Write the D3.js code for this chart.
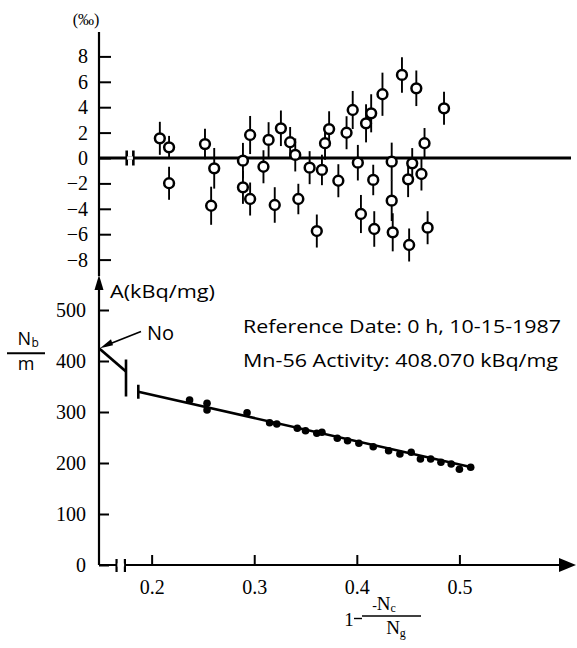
<!DOCTYPE html>
<html>
<head>
<meta charset="utf-8">
<script src="https://cdnjs.cloudflare.com/ajax/libs/d3/7.8.5/d3.min.js"></script>
<style>
  body { margin: 0; background: #fff; }
  svg { display: block; }
</style>
</head>
<body>
<svg id="chart"></svg>
<script>
// residuals (per mille) vs 1 - Nc/Ng
var resX = [0.208, 0.217, 0.217, 0.252, 0.258, 0.261, 0.289, 0.289, 0.296, 0.296, 0.309,
            0.314, 0.320, 0.326, 0.335, 0.340, 0.343, 0.354, 0.361, 0.366, 0.369, 0.373,
            0.382, 0.390, 0.396, 0.401, 0.404, 0.409, 0.414, 0.416, 0.417, 0.425, 0.434,
            0.434, 0.435, 0.444, 0.450, 0.451, 0.454, 0.458, 0.463, 0.466, 0.469, 0.485];
var resY = [1.55, 0.84, -1.99, 1.10, -3.76, -0.81, -0.21, -2.31, 1.81, -3.23, -0.69,
            1.42, -3.70, 2.34, 1.24, 0.24, -3.23, -0.76, -5.75, -0.94, 1.16, 2.28,
            -1.79, 1.99, 3.78, -0.37, -4.41, 2.73, 3.52, -1.73, -5.59, 5.02, -0.29,
            -3.36, -5.85, 6.54, -1.68, -6.85, -0.42, 5.49, -1.26, 1.16, -5.49, 3.91];
var resErr = [1.3, 0.9, 1.3, 1.2, 1.5, 1.6, 1.4, 1.3, 1.5, 1.3, 1.3,
              1.4, 1.4, 1.4, 1.2, 1.3, 1.2, 1.3, 1.3, 1.2, 1.3, 1.4,
              1.3, 1.3, 1.5, 1.4, 1.5, 1.5, 1.5, 1.2, 1.4, 1.7, 1.5,
              1.6, 1.5, 1.4, 1.4, 1.3, 1.2, 1.4, 1.3, 1.2, 1.3, 1.3];

// activity Nb/m (kBq/mg)
var actX = [0.237, 0.254, 0.254, 0.293, 0.315, 0.322, 0.342, 0.350, 0.361, 0.366, 0.381, 0.391,
            0.402, 0.416, 0.431, 0.442, 0.453, 0.462, 0.472, 0.482, 0.492, 0.500, 0.511];
var actY = [323.5, 317.1, 303.9, 298.6, 279.0, 276.5, 268.0, 263.3, 258.2, 260.2, 248.4, 243.7,
            238.6, 232.0, 224.1, 217.6, 221.0, 207.8, 207.8, 201.4, 198.0, 187.6, 191.6];

var fitN0 = 425;      // No, intercept
var fitSlope = -456;
var fitStart = 0.187, fitEnd = 0.513;

var xTicks = [0.2, 0.3, 0.4, 0.5];
var topTicks = [-8, -6, -4, -2, 0, 2, 4, 6, 8];
var botTicks = [0, 100, 200, 300, 400, 500];

var width = 577, height = 648;
var serif = '"Liberation Serif", "Times New Roman", serif';
var sans = '"Open Sans", "Lato", sans-serif';

var svg = d3.select('#chart').attr('width', width).attr('height', height);

// broken x axis: 0..0.1 squeezed in front of the break
var x = d3.scaleLinear().domain([0, 0.1, 0.187, 0.6]).range([99, 126, 138.3, 562]);
var yTop = d3.scaleLinear().domain([-8, 8]).range([259.6, 56.4]);
var yBot = d3.scaleLinear().domain([0, 500]).range([565, 310]);
var x0 = x(0);

function fit(v) { return fitN0 + fitSlope * v; }

// ---------- top panel ----------
svg.append('line')
  .attr('x1', x0).attr('x2', x0).attr('y1', 32).attr('y2', 276)
  .attr('stroke', '#000').attr('stroke-width', 2.2);

var topAxis = svg.append('g')
  .attr('transform', 'translate(' + x0 + ',0)')
  .call(d3.axisRight(yTop).tickValues(topTicks).tickSize(12)
    .tickFormat(function(d) { return d < 0 ? '\u2212' + (-d) : d; }));
topAxis.select('.domain').remove();
topAxis.selectAll('line').attr('stroke-width', 2);
topAxis.selectAll('text')
  .attr('x', -11).attr('text-anchor', 'end')
  .style('font-family', serif).style('font-size', '20px');

svg.append('text')
  .attr('x', 86).attr('y', 25).attr('text-anchor', 'middle')
  .style('font-family', serif).style('font-size', '16px')
  .text('(\u2030)');

// zero line with break
svg.append('line')
  .attr('x1', x0).attr('x2', 571).attr('y1', yTop(0)).attr('y2', yTop(0))
  .attr('stroke', '#000').attr('stroke-width', 2.8);
[0.105, 0.152].forEach(function(b) {
  svg.append('line')
    .attr('x1', x(b)).attr('x2', x(b)).attr('y1', yTop(0) - 7.5).attr('y2', yTop(0) + 7.5)
    .attr('stroke', '#000').attr('stroke-width', 2.6);
});
svg.append('line')
  .attr('x1', x(0.108)).attr('x2', x(0.149)).attr('y1', yTop(0)).attr('y2', yTop(0))
  .attr('stroke', '#fff').attr('stroke-width', 3.2);

var res = resX.map(function(v, i) { return { x: v, y: resY[i], e: resErr[i] }; });

svg.append('g').selectAll('line')
  .data(res).enter().append('line')
  .attr('x1', function(d) { return x(d.x); })
  .attr('x2', function(d) { return x(d.x); })
  .attr('y1', function(d) { return yTop(d.y + d.e); })
  .attr('y2', function(d) { return yTop(d.y - d.e); })
  .attr('stroke', '#000').attr('stroke-width', 1.9);

svg.append('g').selectAll('circle')
  .data(res).enter().append('circle')
  .attr('cx', function(d) { return x(d.x); })
  .attr('cy', function(d) { return yTop(d.y); })
  .attr('r', 4.9)
  .attr('fill', '#fff').attr('stroke', '#000').attr('stroke-width', 2.5);

// ---------- bottom panel ----------
svg.append('line')
  .attr('x1', x0).attr('x2', x0).attr('y1', 286).attr('y2', yBot(0))
  .attr('stroke', '#000').attr('stroke-width', 2.2);
svg.append('path')
  .attr('d', 'M' + x0 + ',275 L' + (x0 - 4.5) + ',290 L' + (x0 + 4.5) + ',290 Z')
  .attr('fill', '#000');

var botAxis = svg.append('g')
  .attr('transform', 'translate(' + x0 + ',0)')
  .call(d3.axisRight(yBot).tickValues(botTicks).tickSize(10));
botAxis.select('.domain').remove();
botAxis.selectAll('line').attr('stroke-width', 2);
botAxis.selectAll('text')
  .attr('x', -13).attr('text-anchor', 'end')
  .style('font-family', serif).style('font-size', '20px');

// x axis
svg.append('line')
  .attr('x1', x0).attr('x2', 562).attr('y1', yBot(0)).attr('y2', yBot(0))
  .attr('stroke', '#000').attr('stroke-width', 2.2);
svg.append('path')
  .attr('d', 'M576,' + yBot(0) + ' L559,' + (yBot(0) - 7) + ' L559,' + (yBot(0) + 7) + ' Z')
  .attr('fill', '#000');
[0.065, 0.096].forEach(function(b) {
  svg.append('line')
    .attr('x1', x(b)).attr('x2', x(b)).attr('y1', yBot(0) - 6).attr('y2', yBot(0) + 7)
    .attr('stroke', '#000').attr('stroke-width', 2.2);
});
svg.append('line')
  .attr('x1', x(0.068)).attr('x2', x(0.093)).attr('y1', yBot(0)).attr('y2', yBot(0))
  .attr('stroke', '#fff').attr('stroke-width', 3);

var xAxis = svg.append('g')
  .attr('transform', 'translate(0,' + yBot(0) + ')')
  .call(d3.axisTop(x).tickValues(xTicks).tickSize(10).tickFormat(d3.format('.1f')));
xAxis.select('.domain').remove();
xAxis.selectAll('line').attr('stroke-width', 2);
xAxis.selectAll('text')
  .attr('y', 29).attr('dy', 0)
  .style('font-family', serif).style('font-size', '20px');

// fitted line, in two pieces around the break
svg.append('line')
  .attr('x1', x(0)).attr('y1', yBot(fit(0)))
  .attr('x2', x(0.1)).attr('y2', yBot(fit(0.1)))
  .attr('stroke', '#000').attr('stroke-width', 2.8);
svg.append('line')
  .attr('x1', x(0.1)).attr('x2', x(0.1))
  .attr('y1', yBot(fit(0.1)) - 12).attr('y2', yBot(fit(0.1)) + 25)
  .attr('stroke', '#000').attr('stroke-width', 2.6);
svg.append('line')
  .attr('x1', x(fitStart)).attr('x2', x(fitStart))
  .attr('y1', yBot(fit(fitStart)) - 7).attr('y2', yBot(fit(fitStart)) + 7)
  .attr('stroke', '#000').attr('stroke-width', 2.6);
svg.append('line')
  .attr('x1', x(fitStart)).attr('y1', yBot(fit(fitStart)))
  .attr('x2', x(fitEnd)).attr('y2', yBot(fit(fitEnd)))
  .attr('stroke', '#000').attr('stroke-width', 2.6);

svg.append('g').selectAll('circle')
  .data(actX.map(function(v, i) { return { x: v, y: actY[i] }; }))
  .enter().append('circle')
  .attr('cx', function(d) { return x(d.x); })
  .attr('cy', function(d) { return yBot(d.y); })
  .attr('r', 3.8).attr('fill', '#000');

// No arrow
svg.append('line')
  .attr('x1', 141).attr('y1', 331.5).attr('x2', x0 + 6).attr('y2', yBot(fitN0) - 2.5)
  .attr('stroke', '#000').attr('stroke-width', 1.7);
svg.append('path')
  .attr('d', 'M' + (x0 + 1) + ',' + yBot(fitN0) + ' l11,-9 l2,6 Z')
  .attr('fill', '#000');
svg.append('text')
  .attr('x', 147).attr('y', 339.5)
  .style('font-family', sans).style('font-size', '20px')
  .text('No');

svg.append('text')
  .attr('x', 110).attr('y', 298)
  .attr('textLength', 105).attr('lengthAdjust', 'spacingAndGlyphs')
  .style('font-family', sans).style('font-size', '18px')
  .text('A(kBq/mg)');

svg.append('text')
  .attr('x', 243).attr('y', 333)
  .attr('textLength', 318).attr('lengthAdjust', 'spacingAndGlyphs')
  .style('font-family', sans).style('font-size', '18.5px')
  .text('Reference Date: 0 h, 10-15-1987');
svg.append('text')
  .attr('x', 243).attr('y', 366.5)
  .attr('textLength', 315).attr('lengthAdjust', 'spacingAndGlyphs')
  .style('font-family', sans).style('font-size', '18.5px')
  .text('Mn-56 Activity: 408.070 kBq/mg');

// Nb / m label (N and subscript b as two side-by-side texts)
svg.append('text')
  .attr('x', 31).attr('y', 344.5).attr('text-anchor', 'end')
  .style('font-family', sans).style('font-size', '18px')
  .text('N');
svg.append('text')
  .attr('x', 31.5).attr('y', 346.5)
  .style('font-family', sans).style('font-size', '12px')
  .text('b');
svg.append('line')
  .attr('x1', 7).attr('x2', 45).attr('y1', 353.3).attr('y2', 353.3)
  .attr('stroke', '#000').attr('stroke-width', 2);
svg.append('text')
  .attr('x', 26).attr('y', 369.5).attr('text-anchor', 'middle')
  .style('font-family', sans).style('font-size', '18px')
  .text('m');

// 1 - Nc/Ng label
svg.append('text')
  .attr('x', 349).attr('y', 626).attr('text-anchor', 'middle')
  .style('font-family', serif).style('font-size', '19px')
  .text('1');
svg.append('line')
  .attr('x1', 354).attr('x2', 362).attr('y1', 618.5).attr('y2', 618.5)
  .attr('stroke', '#000').attr('stroke-width', 1.4);
svg.append('line')
  .attr('x1', 362).attr('x2', 421).attr('y1', 616).attr('y2', 616)
  .attr('stroke', '#000').attr('stroke-width', 1.6);
var num = svg.append('text')
  .attr('x', 384).attr('y', 609.5).attr('text-anchor', 'middle')
  .style('font-family', serif).style('font-size', '19px');
num.append('tspan').style('font-size', '14px').text('-');
num.append('tspan').text('N');
num.append('tspan').attr('dy', 2).style('font-size', '12px').text('c');
var den = svg.append('text')
  .attr('x', 396).attr('y', 634).attr('text-anchor', 'middle')
  .style('font-family', serif).style('font-size', '19px');
den.append('tspan').text('N');
den.append('tspan').attr('dy', 3).style('font-size', '12px').text('g');
</script>
</body>
</html>
